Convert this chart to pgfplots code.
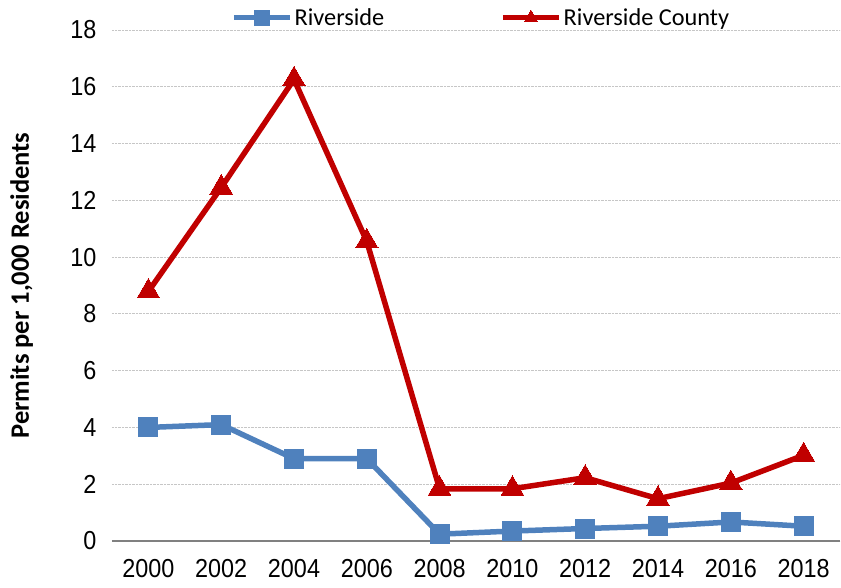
\documentclass[border=0pt]{standalone}
\usepackage{pgfplots}
\pgfplotsset{compat=1.18}
\usepackage{fontspec}
\setmainfont{Carlito}
\newfontfamily\tickfont[FakeStretch=0.9]{Liberation Sans}
\definecolor{rsblue}{HTML}{4F81BD}
\definecolor{rsred}{HTML}{C00000}
\begin{document}
\begin{tikzpicture}
\begin{axis}[
  scale only axis,
  width=728pt, height=511pt,
  xmin=1999, xmax=2019,
  ymin=0, ymax=18,
  xtick={2000,2002,...,2018},
  ytick={0,2,...,18},
  major tick length=0pt,
  axis line style={draw=none},
  ymajorgrids,
  grid style={densely dotted, gray!45, line width=0.8pt},
  extra y ticks={0},
  extra y tick labels={},
  extra y tick style={grid style={solid, black!50, line width=1.8pt}},
  /pgf/number format/assume math mode=true,
  /pgf/number format/set thousands separator={},
  tick label style={font=\tickfont\fontsize{26}{26}\selectfont},
  xticklabel style={yshift=-15pt},
  yticklabel style={xshift=-12pt},
  ylabel={\bfseries Permits per 1,000 Residents},
  ylabel style={font=\fontsize{26.5}{26.5}\selectfont, at={(axis description cs:-0.124,0.5)}, anchor=center, rotate=0},
  legend columns=2,
  legend style={at={(axis description cs:0.507,1.024)}, anchor=center, draw=none, fill=none,
    font=\fontsize{24.3}{24.3}\selectfont, /tikz/every even column/.append style={column sep=114pt}},
  legend image code/.code={
    \draw[mark repeat=2, mark phase=2, #1, mark size=7.5pt] plot coordinates {(0pt,0pt) (28pt,0pt) (56pt,0pt)};},
]
\addplot[rsblue, line width=5.5pt, mark=square*, mark size=9.5pt, mark options={solid, line width=0pt}]
  coordinates {(2000,4.0) (2002,4.1) (2004,2.9) (2006,2.9) (2008,0.24) (2010,0.35) (2012,0.44) (2014,0.52) (2016,0.67) (2018,0.52)};
\addlegendentry{Riverside}
\addplot[rsred, line width=5.5pt, mark=triangle*, mark size=13pt, mark options={solid, line width=0pt}]
  coordinates {(2000,8.79) (2002,12.45) (2004,16.26) (2006,10.55) (2008,1.84) (2010,1.84) (2012,2.23) (2014,1.49) (2016,2.04) (2018,3.02)};
\addlegendentry{Riverside County}
\end{axis}
\pgfresetboundingbox
\path (-112pt,-47pt) rectangle (729pt,541pt);
\end{tikzpicture}
\end{document}
